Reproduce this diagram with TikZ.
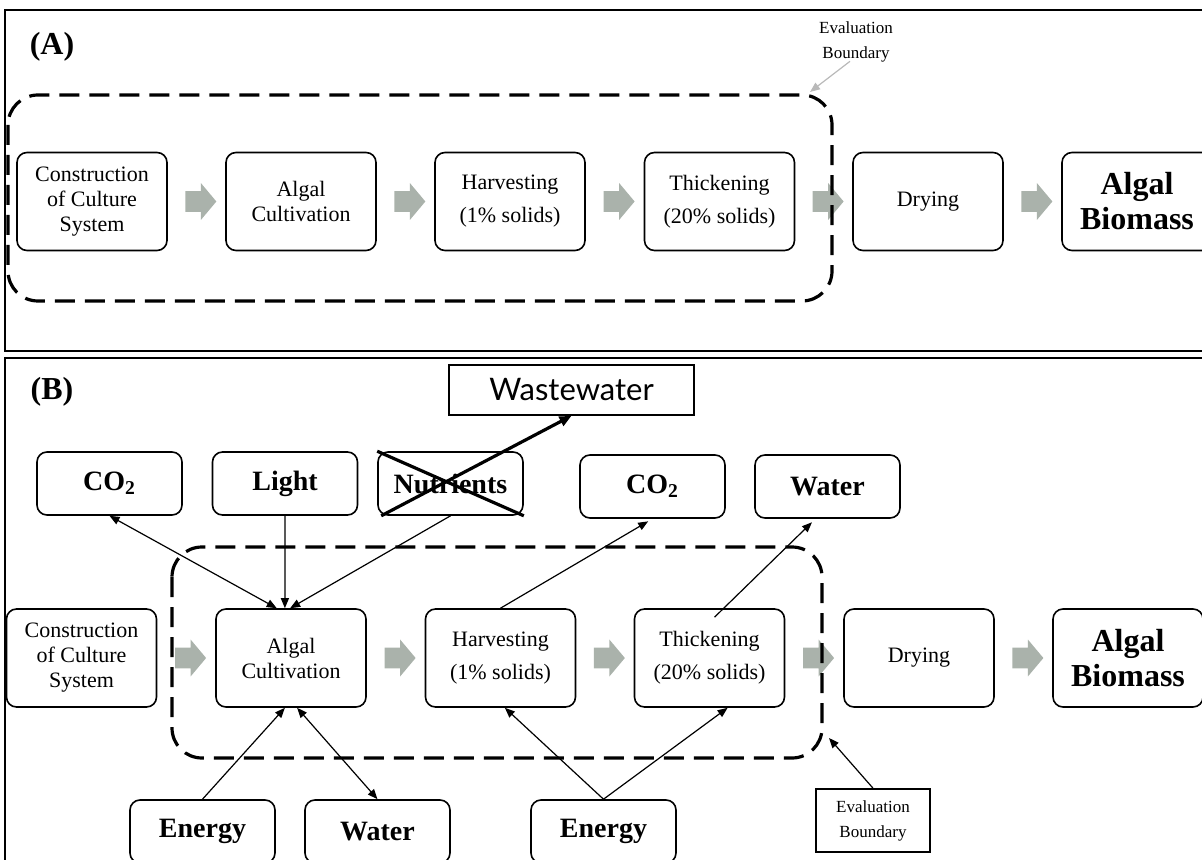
\documentclass[tikz,border=0pt]{standalone}
\usepackage{fontspec}
\setmainfont{Liberation Serif}
\newfontfamily\wwfont{Lato}
\usetikzlibrary{arrows.meta,shapes.arrows}
\definecolor{arrowgray}{RGB}{170,178,171}
\definecolor{linegray}{RGB}{185,185,185}
\tikzset{
  procbox/.style={draw,rounded corners=5pt,line width=0.8pt,minimum width=75pt,minimum height=49pt,align=center,font=\fontsize{11}{12.5}\selectfont},
  bigbox/.style={procbox,font=\fontsize{16}{17.5}\selectfont\bfseries},
  inbox/.style={draw,rounded corners=5pt,line width=0.8pt,minimum width=72.5pt,minimum height=31.5pt,font=\fontsize{14}{16}\selectfont\bfseries},
  evaltext/.style={align=center,font=\fontsize{8.5}{12.5}\selectfont},
  blockarr/.style={single arrow,fill=arrowgray,draw=none,inner xsep=0pt,inner ysep=5pt,minimum height=15.5pt,single arrow head extend=4pt,single arrow tip angle=100},
  bound/.style={dash pattern=on 10pt off 5pt,line width=1.6pt,rounded corners=15pt},
  flow/.style={arrows={-Triangle[length=5pt,width=4pt]},line width=0.6pt},
  flowboth/.style={arrows={Triangle[length=5pt,width=4pt]-Triangle[length=5pt,width=4pt]},line width=0.6pt},
  crossline/.style={line width=1.6pt}
}
\begin{document}
\begin{tikzpicture}[x=0.5pt,y=-0.5pt]
  \useasboundingbox (0,0) rectangle (1202,860);
  \clip (0,0) rectangle (1202,860);
  % panels
  \draw[line width=1pt] (5,10) rectangle (1210,351);
  \draw[line width=1pt] (5,358) rectangle (1210,880);
  \node[font=\fontsize{16}{16}\selectfont\bfseries] (labA) at (52,47) {(A)};
  \node[font=\fontsize{16}{16}\selectfont\bfseries] (labB) at (52,392) {(B)};

  % (A) process chain
  \node[procbox] (a1) at (92,201.5)   {Construction\\of Culture\\System};
  \node[procbox] (a2) at (301,201.5)  {Algal\\Cultivation};
  \node[procbox] (a3) at (510,201.5)  {Harvesting\\[4pt](1\% solids)};
  \node[procbox] (a4) at (719.5,201.5){Thickening\\[4pt](20\% solids)};
  \node[procbox] (a5) at (928,201.5)  {Drying};
  \node[bigbox]  (a6) at (1137,201.5) {Algal\\Biomass};
  \foreach \from/\to in {a1/a2,a2/a3,a3/a4,a4/a5,a5/a6}
    \path (\from) -- node[blockarr] {} (\to);
  \draw[bound] (8,95) rectangle (832,301);
  \node[evaltext] (evalA) at (856,42) {Evaluation\\Boundary};
  \coordinate (acorner) at (810,92);
  \draw[arrows={-Triangle[length=5pt,width=4pt]},line width=0.6pt,linegray] ([xshift=-3pt,yshift=4pt]evalA.south) -- (acorner);

  % (B) process chain
  \node[procbox] (constr) at (81.5,658) {Construction\\of Culture\\System};
  \node[procbox] (algal)  at (291,658)   {Algal\\Cultivation};
  \node[procbox] (harv)   at (500.5,658) {Harvesting\\[4pt](1\% solids)};
  \node[procbox] (thick)  at (709.5,658) {Thickening\\[4pt](20\% solids)};
  \node[procbox] (dry)    at (919,658)   {Drying};
  \node[bigbox]  (biom)   at (1128,658)  {Algal\\Biomass};
  \foreach \from/\to in {constr/algal,algal/harv,harv/thick,thick/dry,dry/biom}
    \path (\from) -- node[blockarr] {} (\to);

  % inputs and outputs
  \node[inbox] (co2a)    at (109.5,483.5) {CO\textsubscript{2}};
  \node[inbox] (light)   at (285,483.5)   {Light};
  \node[inbox] (nutr)    at (450.5,483.5) {Nutrients};
  \node[inbox] (co2b)    at (652.5,486.5) {CO\textsubscript{2}};
  \node[inbox] (water)   at (827.5,486.5) {Water};
  \node[draw,line width=0.8pt,minimum width=122.5pt,minimum height=25pt,font=\wwfont\fontsize{15.5}{16}\selectfont] (waste) at (571.5,390) {Wastewater};
  \node[inbox] (energya) at (202.5,831.5) {Energy};
  \node[inbox] (waterb)  at (377.5,831.5) {Water};
  \node[inbox] (energyb) at (603.5,831.5) {Energy};
  \node[draw,line width=0.8pt,minimum width=57pt,minimum height=31.5pt,evaltext] (evalB) at (873,820.5) {Evaluation\\Boundary};
  \coordinate (bcorner) at (829,738);

  \draw[bound] (172,547) rectangle (822,758);

  \draw[flowboth] (co2a.south) -- (algal.106);
  \draw[flow] (light.south) -- (algal.97);
  \draw[flow] (nutr.south) -- (algal.91);
  \draw[flow,shorten >=2.5pt] (harv.north) -- (co2b.south);
  \draw[flow,shorten >=2.5pt] ([xshift=2.5pt,yshift=-4.5pt]thick.north) -- ([xshift=-6pt]water.south);
  \draw[flow] (energya.north) -- (algal.263);
  \draw[flowboth] (algal.277) -- (waterb.north);
  \foreach \to in {harv.275,thick.290}
    \draw[flow] (energyb.north) -- (\to);
  \draw[flow] (evalB.north) -- (bcorner);
  % nutrients crossed out
  \draw[crossline] (nutr.north west) -- (nutr.south east);
  \draw[crossline,arrows={-Triangle[length=6pt,width=5pt]}] (nutr.205) -- (waste.south);
\end{tikzpicture}
\end{document}
